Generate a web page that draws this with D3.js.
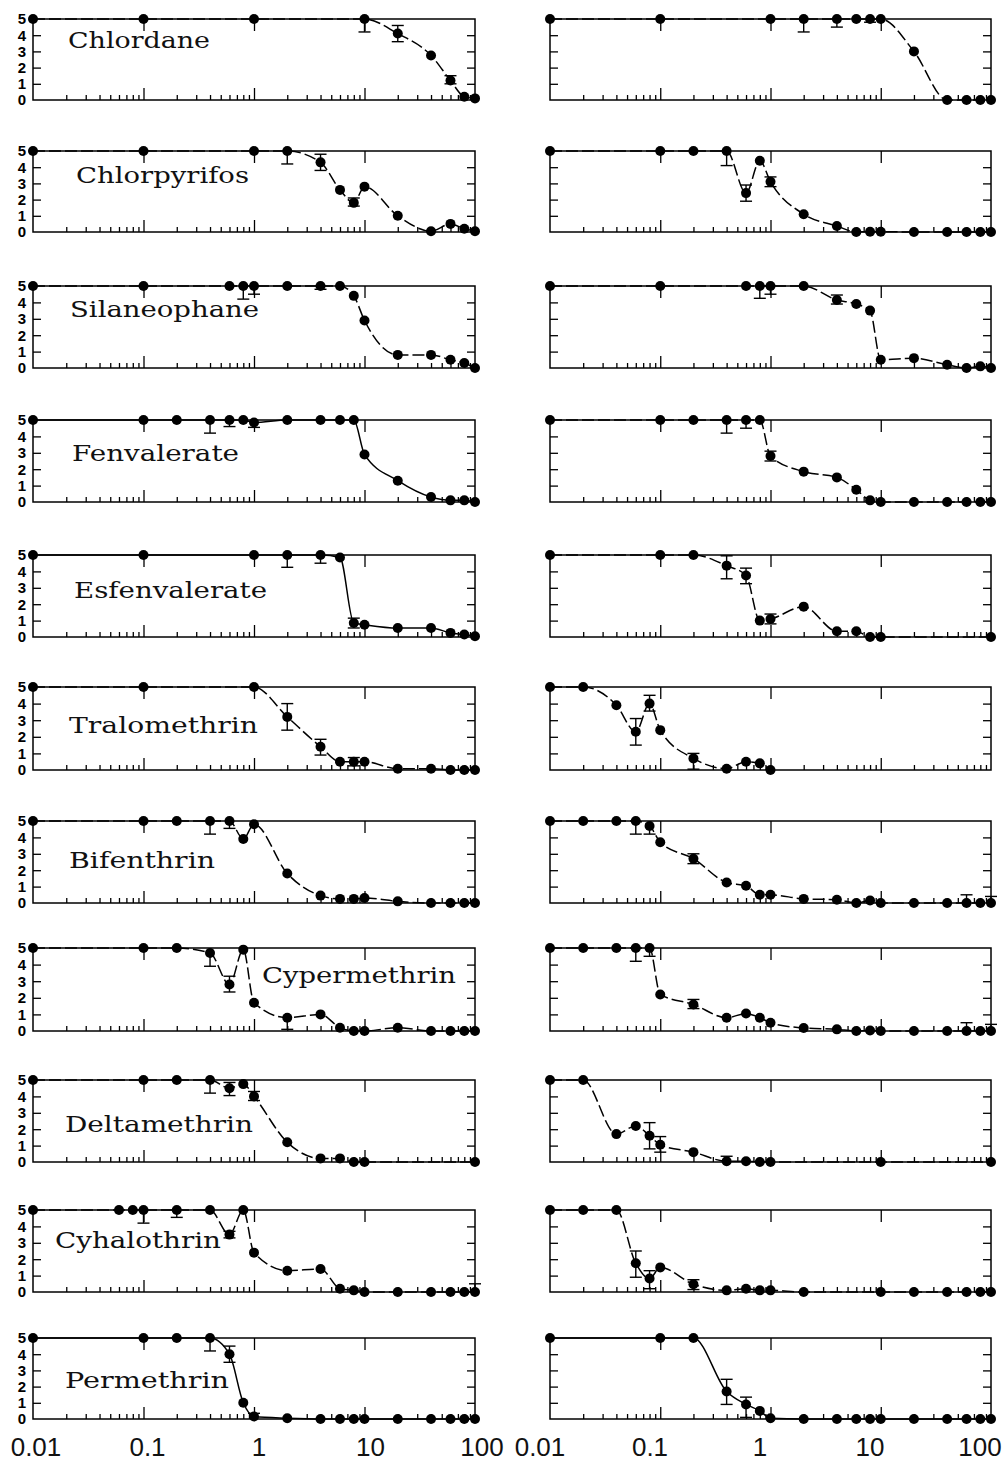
<!DOCTYPE html>
<html><head><meta charset="utf-8">
<script src="https://cdn.jsdelivr.net/npm/d3@7"></script>
<style>body{margin:0;background:#fff}svg{display:block}</style>
</head><body>
<svg id="c" width="1007" height="1466"></svg>
<script>
// ---------------- DATA ----------------
const compounds = ["Chlordane","Chlorpyrifos","Silaneophane","Fenvalerate","Esfenvalerate",
  "Tralomethrin","Bifenthrin","Cypermethrin","Deltamethrin","Cyhalothrin","Permethrin"];
const xTickValues = [0.01, 0.1, 1, 10, 100];
const xTickLabels = ["0.01", "0.1", "1", "10", "100"];
const yTickLabels = [0, 1, 2, 3, 4, 5];
// each point: [concentration, score, errLow, errHigh]
const chlordaneA = [[0.01,5],[0.1,5],[1,5],[10,5,4.2],[20,4.1,3.6,4.6],[40,2.75],[60,1.2,1.0,1.5],[80,0.2],[100,0.1]];
const chlordaneB = [[0.01,5],[0.1,5],[1,5],[2,5,4.2],[4,5,4.5],[6,5],[8,5,4.8],[10,5],[20,3.0],[40,0],[60,0],[80,0],[100,0]];
const chlorpyrifosA = [[0.01,5],[0.1,5],[1,5],[2,5,4.2],[4,4.3,3.8,4.8],[6,2.6],[8,1.8,1.6,2.1],[10,2.8],[20,1.0],[40,0.05],[60,0.5],[80,0.2],[100,0.05]];
const chlorpyrifosB = [[0.01,5],[0.1,5],[0.2,5],[0.4,5,4.1],[0.6,2.4,1.9,2.9],[0.8,4.4],[1,3.1,2.8,3.4],[2,1.1],[4,0.37],[6,0],[8,0.02],[10,0.02],[20,0],[40,0],[60,0],[80,0],[100,0]];
const silaneophaneA = [[0.01,5],[0.1,5],[0.6,5],[0.8,5,4.2],[1,5,4.5],[2,5],[4,5,4.8],[6,5],[8,4.4],[10,2.9],[20,0.8],[40,0.8],[60,0.5],[80,0.3],[100,0]];
const silaneophaneB = [[0.01,5],[0.1,5],[0.6,5],[0.8,5,4.25],[1,5,4.5],[2,5],[4,4.15,3.9,4.45],[6,3.9],[8,3.5],[10,0.5],[20,0.6],[40,0.2],[60,0],[80,0.1],[100,0]];
const fenvalerateA = [[0.01,5],[0.1,5],[0.2,5],[0.4,5,4.2],[0.6,5,4.6],[0.8,5],[1,4.85,4.55,5],[2,5],[4,5],[6,5],[8,5],[10,2.9],[20,1.3],[40,0.3],[60,0.1],[80,0.1],[100,0]];
const fenvalerateB = [[0.01,5],[0.1,5],[0.2,5],[0.4,5,4.2],[0.6,5,4.5],[0.8,5],[1,2.8,2.5,3.1],[2,1.85],[4,1.5],[6,0.75],[8,0.1],[10,0],[20,0],[40,0],[60,0],[80,0],[100,0]];
const esfenvalerateA = [[0.01,5],[0.1,5],[1,5],[2,5,4.25],[4,5,4.5],[6,4.85],[8,0.85,0.55,1.15],[10,0.75],[20,0.55],[40,0.55],[60,0.25],[80,0.15],[100,0.05]];
const esfenvalerateB = [[0.01,5],[0.1,5],[0.2,5],[0.4,4.35,3.55,4.95],[0.6,3.75,3.25,4.2],[0.8,1.0],[1,1.1,0.8,1.4],[2,1.85],[4,0.35],[6,0.35],[8,0],[10,0],[100,0]];
const tralomethrinA = [[0.01,5],[0.1,5],[1,5],[2,3.2,2.4,4.0],[4,1.4,0.9,1.85],[6,0.5],[8,0.5,0.25,0.75],[10,0.5],[20,0.08],[40,0.08],[60,0],[80,0],[100,0]];
const tralomethrinB = [[0.01,5],[0.02,5],[0.04,3.9],[0.06,2.3,1.5,3.1],[0.08,4.0,3.55,4.5],[0.1,2.4],[0.2,0.7,0.05,1.0],[0.4,0.08],[0.6,0.5],[0.8,0.4],[1,0]];
const bifenthrinA = [[0.01,5],[0.1,5],[0.2,5],[0.4,5,4.2],[0.6,5,4.55],[0.8,3.9],[1,4.8],[2,1.8],[4,0.45],[6,0.25],[8,0.25],[10,0.3],[20,0.1],[40,0],[60,0],[80,0],[100,0]];
const bifenthrinB = [[0.01,5],[0.02,5],[0.04,5],[0.06,5,4.2],[0.08,4.7,4.2,5],[0.1,3.7],[0.2,2.7,2.4,3.0],[0.4,1.25],[0.6,1.05],[0.8,0.5],[1,0.5],[2,0.25],[4,0.2],[6,0],[8,0.15],[10,0],[20,0],[40,0],[60,0,0,0.5],[80,0],[100,0,0,0.4]];
const cypermethrinA = [[0.01,5],[0.1,5],[0.2,5],[0.4,4.7,3.9,5],[0.6,2.8,2.35,3.3],[0.8,4.9],[1,1.7],[2,0.8,0.1,0.8],[4,1.0],[6,0.2],[8,0],[10,0],[20,0.2],[40,0],[60,0],[80,0],[100,0]];
const cypermethrinB = [[0.01,5],[0.02,5],[0.04,5],[0.06,5,4.2],[0.08,5,4.5],[0.1,2.2],[0.2,1.6,1.35,1.9],[0.4,0.8],[0.6,1.05],[0.8,0.8],[1,0.5],[2,0.18],[4,0.1],[6,0],[8,0.03],[10,0],[20,0],[40,0],[60,0,0,0.5],[80,0],[100,0,0,0.4]];
const deltamethrinA = [[0.01,5],[0.1,5],[0.2,5],[0.4,5,4.2],[0.6,4.5,4.05,4.85],[0.8,4.75],[1,4.0,3.75,4.3],[2,1.2],[4,0.22],[6,0.22],[8,0],[10,0],[100,0]];
const deltamethrinB = [[0.01,5],[0.02,5],[0.04,1.7],[0.06,2.2],[0.08,1.6,0.8,2.4],[0.1,1.05,0.6,1.55],[0.2,0.6],[0.4,0.05,0,0.35],[0.6,0.05],[0.8,0],[1,0],[10,0],[100,0]];
const cyhalothrinA = [[0.01,5],[0.06,5],[0.08,5],[0.1,5,4.2],[0.2,5,4.55],[0.4,5],[0.6,3.5,3.3,3.7],[0.8,5],[1,2.4],[2,1.3],[4,1.4],[6,0.2],[8,0.1],[10,0],[20,0],[40,0],[60,0],[80,0],[100,0,0,0.5]];
const cyhalothrinB = [[0.01,5],[0.02,5],[0.04,5],[0.06,1.75,0.9,2.5],[0.08,0.82,0.2,1.3],[0.1,1.5],[0.2,0.47,0.15,0.75],[0.4,0.1],[0.6,0.2],[0.8,0.1],[1,0.1],[2,0],[10,0],[20,0],[40,0],[60,0],[80,0],[100,0]];
const permethrinA = [[0.01,5],[0.1,5],[0.2,5],[0.4,5,4.2],[0.6,4.0,3.5,4.5],[0.8,1.0],[1,0.15,0,0.35],[2,0.05],[4,0],[6,0],[8,0],[10,0],[20,0],[40,0],[60,0],[80,0],[100,0]];
const permethrinB = [[0.01,5],[0.1,5],[0.2,5],[0.4,1.7,0.9,2.45],[0.6,0.9,0.1,1.35],[0.8,0.5],[1,0.05],[2,0],[4,0],[6,0],[8,0],[10,0],[20,0],[40,0],[60,0],[80,0],[100,0]];

const seriesA = [chlordaneA,chlorpyrifosA,silaneophaneA,fenvalerateA,esfenvalerateA,tralomethrinA,bifenthrinA,cypermethrinA,deltamethrinA,cyhalothrinA,permethrinA];
const seriesB = [chlordaneB,chlorpyrifosB,silaneophaneB,fenvalerateB,esfenvalerateB,tralomethrinB,bifenthrinB,cypermethrinB,deltamethrinB,cyhalothrinB,permethrinB];

// ---------------- LAYOUT ----------------
const rowTop    = [19,151,286,420,555,687,821,948,1080,1210,1338];
const rowBottom = [100,232,368,502,637,770,903,1031,1162,1292,1419];
const colRange  = [[33,475],[550,991]];
const labelRange = [[36,482],[540,980]];
// title: x, baseline, width
const titleBox = [[68,48,142],[76,183,173],[70,317,189],[72,461,167],[74,598,193],[69,733,189],[69,868,146],[262,983,194],[65,1132,188],[55,1248,166],[65,1388,164]];
const solidA = [false,false,false,true,true,false,false,false,false,false,true];
const solidB = [false,false,false,false,false,false,false,false,false,false,true];

const svg = d3.select("#c");
const minorTicks = [];
for (let e = -2; e < 2; e++) for (let m = 2; m <= 9; m++) minorTicks.push(m * Math.pow(10, e));

function styleAxis(g) {
  g.select(".domain").remove();
  g.selectAll(".tick line").attr("stroke", "#000").attr("stroke-width", 1.3);
}

function drawPanel(data, row, col, solid) {
  const x = d3.scaleLog().domain([0.01, 100]).range(colRange[col]);
  const y = d3.scaleLinear().domain([0, 5]).range([rowBottom[row], rowTop[row]]);
  const g = svg.append("g");
  const [x0, x1] = colRange[col];

  // ticks
  g.append("g").attr("transform", `translate(0,${y(0)})`)
    .call(d3.axisTop(x).tickValues(minorTicks).tickSize(5).tickFormat(""))
    .call(styleAxis);
  g.append("g").attr("transform", `translate(0,${y(0)})`)
    .call(d3.axisTop(x).tickValues([0.1, 1, 10]).tickSize(12).tickFormat(""))
    .call(styleAxis);
  g.append("g").attr("transform", `translate(0,${y(5)})`)
    .call(d3.axisBottom(x).tickValues([0.1, 1, 10]).tickSize(12).tickFormat(""))
    .call(styleAxis);
  g.append("g").attr("transform", `translate(${x0},0)`)
    .call(d3.axisRight(y).tickValues([1, 2, 3, 4]).tickSize(8).tickFormat(""))
    .call(styleAxis);
  g.append("g").attr("transform", `translate(${x1},0)`)
    .call(d3.axisLeft(y).tickValues([1, 2, 3, 4]).tickSize(8).tickFormat(""))
    .call(styleAxis);

  if (col === 0) {
    const ya = g.append("g").attr("transform", `translate(${x0},0)`)
      .call(d3.axisLeft(y).tickValues(yTickLabels).tickSize(0).tickPadding(7).tickFormat(d3.format("d")));
    ya.select(".domain").remove();
    ya.selectAll("text").attr("font-family", "Liberation Sans, Arial, sans-serif")
      .attr("font-size", 15).attr("font-weight", "bold").attr("fill", "#000");
  }

  // frame
  g.append("rect").attr("x", x0).attr("y", y(5)).attr("width", x1 - x0).attr("height", y(0) - y(5))
    .attr("fill", "none").attr("stroke", "#000").attr("stroke-width", 1.5);

  // title
  if (col === 0) {
    const t = titleBox[row];
    g.append("text").attr("x", t[0]).attr("y", t[1]).text(compounds[row])
      .attr("font-family", "DejaVu Serif, serif").attr("font-size", 22)
      .attr("textLength", t[2]).attr("lengthAdjust", "spacingAndGlyphs").attr("fill", "#111");
  }

  // curve
  const line = d3.line().x(d => x(d[0])).y(d => y(d[1])).curve(d3.curveMonotoneX);
  g.append("path").datum(data).attr("d", line).attr("fill", "none")
    .attr("stroke", "#000").attr("stroke-width", 1.5)
    .attr("stroke-dasharray", solid ? null : "12,4");

  // error bars
  const eb = data.filter(d => d.length > 2);
  eb.forEach(d => {
    const lo = d[2], hi = d.length > 3 ? d[3] : d[1];
    const cx = x(d[0]);
    g.append("line").attr("x1", cx).attr("x2", cx).attr("y1", y(lo)).attr("y2", y(hi))
      .attr("stroke", "#000").attr("stroke-width", 1.4);
    [lo, hi].forEach(v => {
      if (v !== d[1] && v > 0 && v < 5) {
        g.append("line").attr("x1", cx - 6).attr("x2", cx + 6).attr("y1", y(v)).attr("y2", y(v))
          .attr("stroke", "#000").attr("stroke-width", 1.4);
      }
    });
  });

  // points
  g.selectAll("circle.pt").data(data).enter().append("circle")
    .attr("cx", d => x(d[0])).attr("cy", d => y(d[1])).attr("r", 5).attr("fill", "#000");
}

for (let r = 0; r < compounds.length; r++) {
  drawPanel(seriesA[r], r, 0, solidA[r]);
  drawPanel(seriesB[r], r, 1, solidB[r]);
}

// bottom concentration labels
[0, 1].forEach(col => {
  const lx = d3.scaleLog().domain([0.01, 100]).range(labelRange[col]);
  svg.append("g").selectAll("text").data(xTickValues).enter().append("text")
    .attr("x", d => lx(d)).attr("y", 1456).attr("text-anchor", "middle")
    .attr("font-family", "Liberation Sans, Arial, sans-serif").attr("font-size", 26)
    .attr("fill", "#111")
    .text((d, i) => xTickLabels[i]);
});
</script>
</body></html>
